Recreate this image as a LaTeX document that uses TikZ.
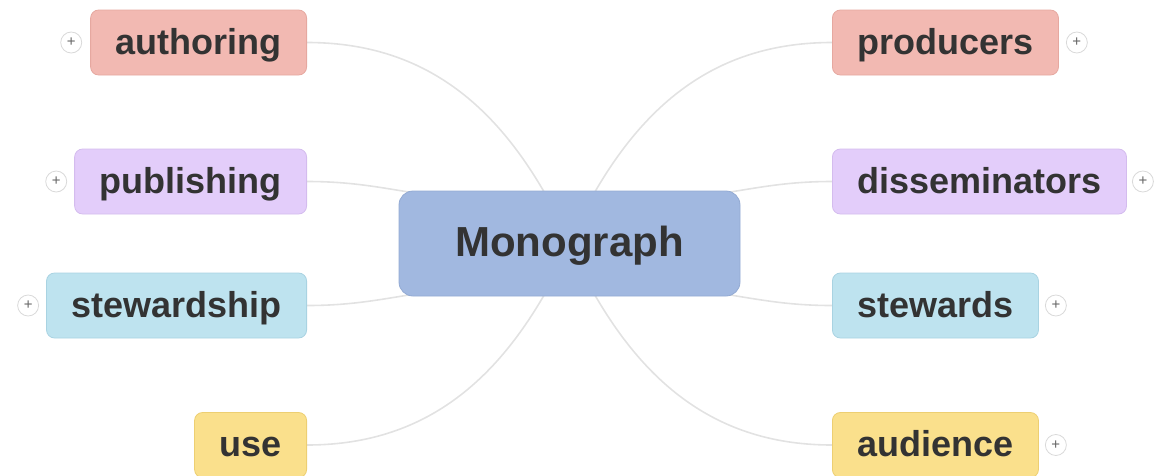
\documentclass[tikz,border=0pt]{standalone}
\usepackage{fontspec}
\setmainfont{Liberation Sans}
\usetikzlibrary{backgrounds,calc}
\definecolor{txt}{HTML}{333333}
\definecolor{pinkf}{HTML}{F2B9B2}\definecolor{pinkd}{HTML}{E6A8A0}
\definecolor{lavf}{HTML}{E3CDFA}\definecolor{lavd}{HTML}{D4BCEE}
\definecolor{bluef}{HTML}{BEE3EF}\definecolor{blued}{HTML}{A9D3E2}
\definecolor{yelf}{HTML}{FAE08C}\definecolor{yeld}{HTML}{EDCF72}
\definecolor{monof}{HTML}{A1B8E0}\definecolor{monod}{HTML}{93AAD3}
\definecolor{edgec}{HTML}{E2E2E2}
\tikzset{
  topic/.style={rounded corners=8pt, line width=0.8pt, minimum height=65pt, inner xsep=25pt, inner ysep=0pt,
    text height=28pt, text depth=5pt,
    text=txt, font=\fontsize{36}{40}\selectfont\bfseries},
  central/.style={rounded corners=14pt, line width=0.8pt, draw=monod, fill=monof, minimum width=341pt, minimum height=105pt,
    text height=32pt, text depth=6pt,
    text=txt, font=\fontsize{42}{46}\selectfont\bfseries},
  pinkbox/.style={topic, fill=pinkf, draw=pinkd},
  lavbox/.style={topic, fill=lavf, draw=lavd},
  bluebox/.style={topic, fill=bluef, draw=blued},
  yelbox/.style={topic, fill=yelf, draw=yeld},
  plusbtn/.style={circle, draw=black!15, fill=white, line width=0.8pt, minimum size=21pt, inner sep=0pt,
    text=black!60, font=\fontsize{15}{15}\selectfont},
  link/.style={draw=edgec, line width=1.6pt},
}
\begin{document}
\begin{tikzpicture}[x=1pt,y=-1pt]
\useasboundingbox (0,0) rectangle (1156,475);
\node[central] (mono) at (569.5,243.5) {Monograph};
\node[pinkbox, anchor=east] (auth) at (307,42.5) {authoring};
\node[lavbox, anchor=east] (pub) at (307,181.5) {publishing};
\node[bluebox, anchor=east] (stew) at (307,305.5) {stewardship};
\node[yelbox, anchor=east] (use) at (307,445) {use};
\node[pinkbox, anchor=west] (prod) at (832,42.5) {producers};
\node[lavbox, anchor=west] (diss) at (832,181.5) {disseminators};
\node[bluebox, anchor=west] (stws) at (832,305.5) {stewards};
\node[yelbox, anchor=west] (aud) at (832,445) {audience};
\node[plusbtn] (pa) at ($(auth.west)+(-19,0)$) {+};
\node[plusbtn] (pp) at ($(pub.west)+(-18,0)$) {+};
\node[plusbtn] (ps) at ($(stew.west)+(-18,0)$) {+};
\node[plusbtn] (ppr) at ($(prod.east)+(18,0)$) {+};
\node[plusbtn] (pd) at ($(diss.east)+(16,0)$) {+};
\node[plusbtn] (pst) at ($(stws.east)+(17,0)$) {+};
\node[plusbtn] (pau) at ($(aud.east)+(17,0)$) {+};
\coordinate (mTL) at ($(mono.north)+(-25,2)$);
\coordinate (mTR) at ($(mono.north)+(25,2)$);
\coordinate (mBL) at ($(mono.south)+(-25,-2)$);
\coordinate (mBR) at ($(mono.south)+(25,-2)$);
\coordinate (mL1) at ($(mono.north west)+(40,6)$);
\coordinate (mL2) at ($(mono.south west)+(40,-6)$);
\coordinate (mR1) at ($(mono.north east)+(-40,6)$);
\coordinate (mR2) at ($(mono.south east)+(-40,-6)$);
\begin{scope}[on background layer]
\draw[link] (auth.east) to[out=0,in=120] (mTL);
\draw[link] (pub.east) to[out=0,in=172] (mL1);
\draw[link] (stew.east) to[out=0,in=188] (mL2);
\draw[link] (use.east) to[out=0,in=240] (mBL);
\draw[link] (prod.west) to[out=180,in=60] (mTR);
\draw[link] (diss.west) to[out=180,in=8] (mR1);
\draw[link] (stws.west) to[out=180,in=-8] (mR2);
\draw[link] (aud.west) to[out=180,in=-60] (mBR);
\end{scope}
\end{tikzpicture}
\end{document}
